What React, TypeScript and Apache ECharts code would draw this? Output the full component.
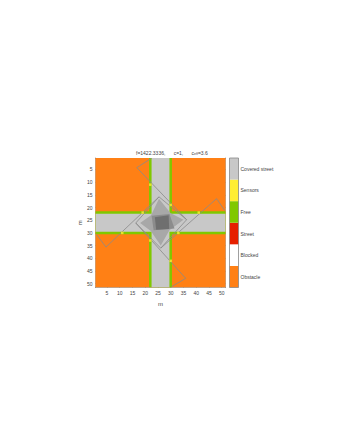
import React, { useEffect, useRef } from "react";
import * as echarts from "echarts";

const ticks = [5, 10, 15, 20, 25, 30, 35, 40, 45, 50];
const legendLabels = ["Obstacle", "Blocked", "Street", "Free", "Sensors", "Covered street"];
const legendColors = ["#ff8015", "#ffffff", "#e62000", "#80c800", "#ffee33", "#c8c8c8"];

type Pt = [number, number];
const rectPts = (x0: number, y0: number, x1: number, y1: number): Pt[] => [[x0, y0], [x1, y0], [x1, y1], [x0, y1]];

const obstacleAreas: Pt[][] = [rectPts(0.5, 0.5, 51.5, 51.5)];
const freeAreas: Pt[][] = [
  rectPts(21.5, 0.5, 30.5, 51.5),
  rectPts(0.5, 21.5, 51.5, 30.5),
];
const coveredAreas: Pt[][] = [
  rectPts(22.5, 0.5, 29.5, 51.5),
  rectPts(0.5, 22.5, 51.5, 29.5),
];
const coverTwo: Pt[][] = [[[25.4, 16.5], [30, 22.3], [35, 24.8], [29.5, 29], [26.1, 35], [22.2, 29.2], [18, 26.1], [22.3, 23]]];
const coverThree: Pt[][] = [[[22.5, 23.2], [29.5, 22.6], [31.5, 28.3], [23.3, 29]]];
const coverFour: Pt[][] = [[[23.8, 23.8], [29.2, 23], [29.4, 28.5], [24.3, 28.8]]];

const outlines: Pt[][] = [
  [[22.6, 0.5], [16.7, 4.3], [36.25, 24.8], [25.4, 15.8], [16.3, 26.1], [35.9, 47.9], [30.3, 51.2]],
  [[51.2, 21.2], [48, 16.5], [26.1, 36], [36.25, 24.8]],
  [[1, 30.7], [4.6, 35.6], [25.4, 15.8]],
  [[16.3, 26.1], [26.1, 36]],
];

const sensorX = [22, 30, 41, 33, 30, 22, 11, 19];
const sensorY = [11, 19, 22, 30, 41, 33, 30, 22];

const FONT = "'Liberation Sans', Arial, sans-serif";
const TEXT = "#444444";

const layers = [
  { pts: obstacleAreas, color: "#ff8015" },
  { pts: freeAreas, color: "#80c800" },
  { pts: coveredAreas, color: "#c8c8c8" },
  { pts: coverTwo, color: "#a8a8a8" },
  { pts: coverThree, color: "#8c8c8c" },
  { pts: coverFour, color: "#6f6f6f" },
];
const fills = layers.flatMap((l) => l.pts.map((pts) => ({ pts, color: l.color })));

export default function App() {
  const ref = useRef<HTMLDivElement>(null);
  useEffect(() => {
    const chart = echarts.init(ref.current!, undefined, { renderer: "svg" });
    const axisCommon = {
      type: "value" as const,
      min: 0.5,
      max: 51.5,
      axisLine: { onZero: false, lineStyle: { color: "#777777", width: 0.6 } },
      splitLine: { show: false },
    };
    const tickOn = { show: true, inside: true, length: 1.5, customValues: ticks, lineStyle: { color: "#666666", width: 0.5 } };
    const labelOn = { show: true, customValues: ticks, fontSize: 5, color: TEXT, fontFamily: FONT, margin: 3 };
    chart.setOption({
      animation: false,
      backgroundColor: "#ffffff",
      title: {
        left: 131,
        top: 144,
        text: "f=1422.3336,      c=1,      {i|c}{s|eff}=3.6",
        textStyle: {
          fontSize: 5,
          fontWeight: "normal",
          color: TEXT,
          fontFamily: FONT,
          rich: {
            i: { fontSize: 5, color: TEXT, fontFamily: FONT },
            s: { fontSize: 3.5, color: TEXT, fontFamily: FONT, verticalAlign: "bottom", padding: [3, 0, 0, 0] },
          },
        },
      },
      grid: [
        { left: 95.5, top: 158, width: 130, height: 129.5 },
        { left: 229.5, top: 158, width: 9, height: 129.5 },
      ],
      xAxis: [
        { ...axisCommon, gridIndex: 0, position: "bottom", axisTick: tickOn, axisLabel: labelOn, name: "m", nameLocation: "middle", nameGap: 13, nameTextStyle: { fontSize: 6, color: TEXT, fontFamily: FONT } },
        { ...axisCommon, gridIndex: 0, position: "top", axisTick: tickOn, axisLabel: { show: false } },
        { type: "value", gridIndex: 1, min: 0, max: 1, axisLine: { show: false }, axisTick: { show: false }, axisLabel: { show: false }, splitLine: { show: false } },
      ],
      yAxis: [
        { ...axisCommon, gridIndex: 0, inverse: true, position: "left", axisTick: tickOn, axisLabel: labelOn, name: "m", nameLocation: "middle", nameGap: 11, nameTextStyle: { fontSize: 6, color: TEXT, fontFamily: FONT } },
        { ...axisCommon, gridIndex: 0, inverse: true, position: "right", axisTick: tickOn, axisLabel: { show: false } },
        {
          type: "category",
          gridIndex: 1,
          position: "right",
          data: legendLabels,
          axisLine: { show: false },
          axisTick: { show: false },
          axisLabel: { fontSize: 5, color: TEXT, fontFamily: FONT, margin: 2 },
        },
      ],
      series: [
        {
          type: "custom",
          xAxisIndex: 0,
          yAxisIndex: 0,
          clip: true,
          silent: true,
          z: 1,
          data: fills.map((f, i) => [f.pts[0][0], f.pts[0][1], i]),
          encode: { x: 0, y: 1 },
          renderItem: (_: any, api: any) => {
            const f = fills[api.value(2)];
            return {
              type: "polygon",
              shape: { points: f.pts.map((p) => api.coord(p)) },
              style: { fill: f.color, stroke: "none" },
            };
          },
        },
        {
          type: "custom",
          xAxisIndex: 0,
          yAxisIndex: 0,
          clip: true,
          silent: true,
          z: 2,
          data: outlines.map((o, i) => [o[0][0], o[0][1], i]),
          encode: { x: 0, y: 1 },
          renderItem: (_: any, api: any) => ({
            type: "polyline",
            shape: { points: outlines[api.value(2)].map((p) => api.coord(p)) },
            style: { fill: "none", stroke: "#8a8a8a", lineWidth: 0.8 },
          }),
        },
        {
          type: "scatter",
          xAxisIndex: 0,
          yAxisIndex: 0,
          symbol: "rect",
          symbolSize: 2.5,
          z: 3,
          itemStyle: { color: "#ffee33" },
          data: sensorX.map((x, i) => [x, sensorY[i]]),
        },
        {
          type: "bar",
          xAxisIndex: 2,
          yAxisIndex: 2,
          barWidth: "100%",
          data: legendColors.map((c) => ({ value: 1, itemStyle: { color: c } })),
        },
      ],
      graphic: [
        { type: "rect", shape: { x: 229.5, y: 158, width: 9, height: 129.5 }, style: { fill: "none", stroke: "#888888", lineWidth: 0.8 }, z: 50 },
      ],
    });
    return () => chart.dispose();
  }, []);
  return <div ref={ref} style={{ position: "absolute", left: 0, top: 0, width: 338, height: 437 }} />;
}
